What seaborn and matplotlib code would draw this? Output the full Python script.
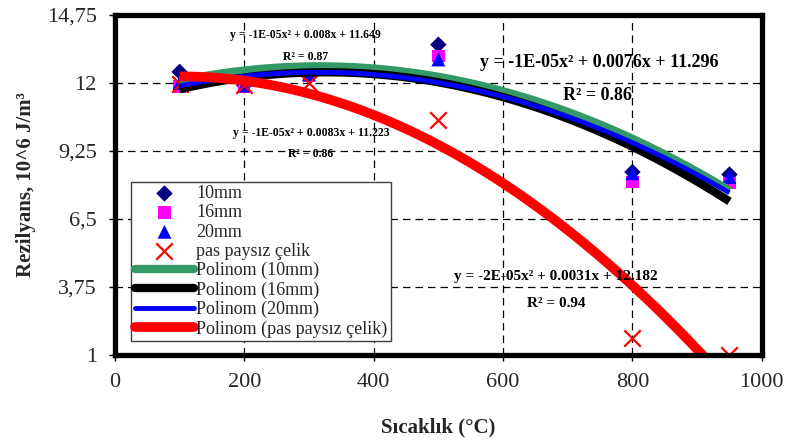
import matplotlib
matplotlib.use("Agg")
import matplotlib.pyplot as plt
from matplotlib.ticker import FuncFormatter
import pandas as pd
import seaborn as sns

temps = [100, 200, 300, 500, 800, 950]
r_10mm = [12.45, 11.9, 12.3, 13.55, 8.4, 8.3]
r_16mm = [11.85, 11.85, 12.3, 13.1, 8.0, 7.95]
r_20mm = [12.0, 11.9, 12.35, 12.95, 8.35, 8.2]
r_steel = [11.95, 11.9, 12.0, 10.5, 1.7, 1.0]

series_names = ["10mm", "16mm", "20mm", "pas paysız çelik"]
fit_names = ["Polinom (10mm)", "Polinom (16mm)", "Polinom (20mm)",
             "Polinom (pas paysız çelik)"]
equations = [
    "y = -1E-05x² + 0.008x + 11.649",
    "y = -1E-05x² + 0.0083x + 11.223",
    "y = -1E-05x² + 0.0076x + 11.296",
    "y = -2E-05x² + 0.0031x + 12.182",
]
r_squared = ["R² = 0.87", "R² = 0.86", "R² = 0.86", "R² = 0.94"]
y_ticks = [1, 3.75, 6.5, 9.25, 12, 14.75]
x_ticks = [0, 200, 400, 600, 800, 1000]


def main() -> None:
    sns.set_theme(style="white")
    plt.rcParams["font.family"] = ["Liberation Serif", "DejaVu Serif"]

    df = pd.concat(
        [
            pd.DataFrame({"T": temps, "R": vals, "Seri": name})
            for name, vals in zip(series_names, [r_10mm, r_16mm, r_20mm, r_steel])
        ],
        ignore_index=True,
    )

    fig = plt.figure(figsize=(7.87, 4.43), dpi=100)
    ax = fig.add_axes([0.146, 0.1986, 0.822, 0.7676])

    marker_style = {
        "10mm": dict(marker="D", color="#000080", s=70),
        "16mm": dict(marker="s", color="#FF00FF", s=80),
        "20mm": dict(marker="^", color="#0000FF", s=100),
        "pas paysız çelik": dict(marker="x", color="#FF0000", s=140),
    }
    for name in series_names:
        st = marker_style[name]
        sub = df[df["Seri"] == name]
        kw = dict(linewidth=1.6) if st["marker"] == "x" else dict(edgecolor="none")
        sns.scatterplot(data=sub, x="T", y="R", marker=st["marker"], color=st["color"],
                        s=st["s"], label=name, ax=ax, zorder=3, **kw)

    line_style = {
        "10mm": ("#339966", 6),
        "16mm": ("#000000", 6),
        "20mm": ("#0000FF", 3.5),
        "pas paysız çelik": ("#FF0000", 7),
    }
    for name, fit in zip(series_names, fit_names):
        col, lw = line_style[name]
        sub = df[df["Seri"] == name]
        sns.regplot(data=sub, x="T", y="R", order=2, ci=None, scatter=False, ax=ax,
                    label=fit,
                    line_kws=dict(color=col, linewidth=lw, zorder=4,
                                  solid_capstyle="butt"))

    ax.set_xlim(0, 1000)
    ax.set_ylim(1, 14.75)
    ax.set_xticks(x_ticks)
    ax.set_yticks(y_ticks)
    ax.yaxis.set_major_formatter(FuncFormatter(lambda v, p: f"{v:g}".replace(".", ",")))
    ax.tick_params(axis="both", labelsize=16, length=4, width=1, color="black",
                   direction="out", pad=9, bottom=True, left=True)
    ax.grid(True, color="black", linestyle=(0, (6, 4)), linewidth=0.9)
    for sp in ax.spines.values():
        sp.set_color("black")
        sp.set_linewidth(3.8)
        sp.set_zorder(6)

    ax.set_xlabel("Sıcaklık (°C)", fontsize=15, fontweight="bold", labelpad=18)
    ax.set_ylabel("Rezilyans, 10^6 J/m³", fontsize=15, fontweight="bold", labelpad=8)

    txt = dict(ha="center", va="center", fontweight="bold", color="black", zorder=7)
    ax.text(294, 13.94, equations[0], fontsize=8.5, **txt)
    ax.text(294, 13.05, r_squared[0], fontsize=8.5, **txt)
    ax.text(304, 9.98, equations[1], fontsize=8.5, **txt)
    ax.text(303, 9.13, r_squared[1], fontsize=8.5, **txt)
    ax.text(748, 12.81, equations[2], fontsize=13, **txt)
    ax.text(746, 11.51, r_squared[2], fontsize=13, **txt)
    ax.text(682, 4.19, equations[3], fontsize=11, **txt)
    ax.text(683, 3.10, r_squared[3], fontsize=11, **txt)

    handles, labels = ax.get_legend_handles_labels()
    leg = ax.legend(handles, labels, loc="upper left", bbox_to_anchor=(0.025, 0.51),
                    borderaxespad=0, fontsize=13, frameon=True, fancybox=False,
                    edgecolor="#404040", framealpha=1, labelspacing=0.12,
                    handlelength=3.3, handletextpad=0.1, borderpad=0.2)
    leg.get_frame().set_linewidth(1)
    leg.set_zorder(8)
    for h in leg.legend_handles:
        if hasattr(h, "set_solid_capstyle"):
            h.set_solid_capstyle("round")

    fig.savefig("out.png", dpi=100)
    plt.close(fig)


if __name__ == "__main__":
    main()
